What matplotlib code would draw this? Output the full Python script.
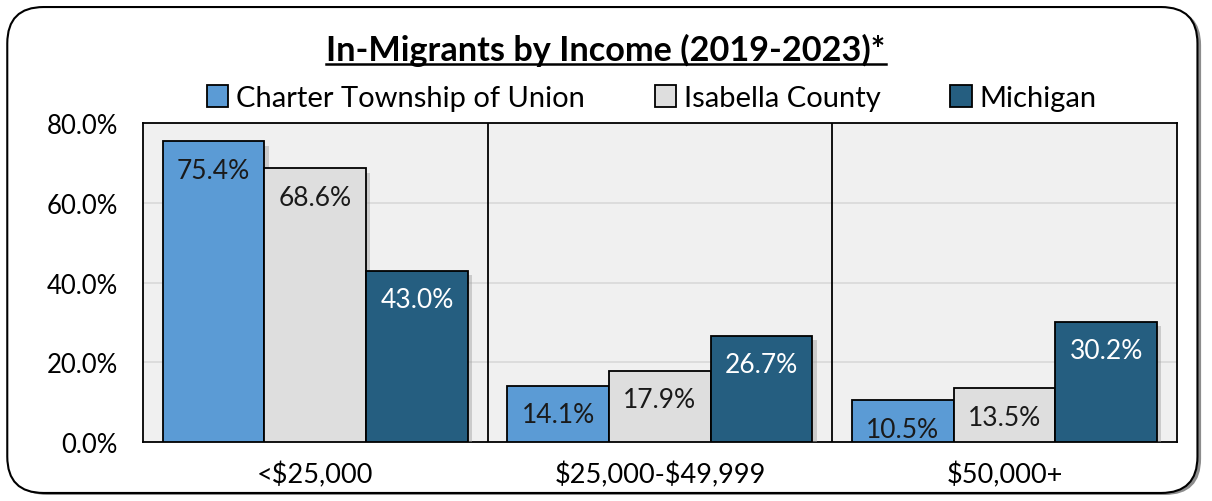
import numpy as np
import matplotlib.pyplot as plt
from matplotlib.patches import FancyBboxPatch
from matplotlib.lines import Line2D
import matplotlib.patheffects as pe

plt.rcParams['font.family'] = ['Lato', 'DejaVu Sans']

# data
categories = ["<\\$25,000", "\\$25,000-\\$49,999", "\\$50,000+"]
series_names = ["Charter Township of Union", "Isabella County", "Michigan"]
union_vals = [75.4, 14.1, 10.5]
isabella_vals = [68.6, 17.9, 13.5]
michigan_vals = [43.0, 26.7, 30.2]
y_ticks = [0, 20, 40, 60, 80]

colors = ["#5B9BD5", "#DEDEDE", "#255E80"]
label_colors = ["#1A1A1A", "#1A1A1A", "white"]

fig = plt.figure(figsize=(12.12, 5.02), dpi=100)

# rounded outer border with a little shadow
shadow = FancyBboxPatch((0.009, 0.012), 0.982, 0.968, boxstyle="round,pad=0,rounding_size=0.03",
                        transform=fig.transFigure, facecolor="#8C8C8C", edgecolor="none",
                        mutation_aspect=1212/502, zorder=0)
border = FancyBboxPatch((0.006, 0.016), 0.982, 0.968, boxstyle="round,pad=0,rounding_size=0.03",
                        transform=fig.transFigure, facecolor="white", edgecolor="black",
                        linewidth=1.5, mutation_aspect=1212/502, zorder=0.1)
fig.patches.extend([shadow, border])

ax = fig.add_axes([0.118, 0.1175, 0.853, 0.6355])
ax.set_zorder(1)
ax.set_facecolor("#F0F0F0")

x = np.arange(len(categories))
width = 0.295
all_vals = [union_vals, isabella_vals, michigan_vals]
shadow_fx = [pe.SimplePatchShadow(offset=(3, -3), shadow_rgbFace="#A0A0A0", alpha=0.45), pe.Normal()]

for i, (name, vals) in enumerate(zip(series_names, all_vals)):
    pos = x + (i - 1) * width
    bars = ax.bar(pos, vals, width, color=colors[i], edgecolor="black", linewidth=1.3,
                  label=name, zorder=3)
    for b in bars:
        b.set_path_effects(shadow_fx)
    for px, v in zip(pos, vals):
        ax.annotate(f"{v:.1f}%", (px, v), xytext=(0, -21), textcoords="offset points",
                    ha="center", va="center", fontsize=19, color=label_colors[i], zorder=4)

ax.set_xlim(-0.5, 2.5)
ax.set_ylim(0, 80)
ax.set_yticks(y_ticks)
ax.set_yticklabels([f"{t:.1f}%" for t in y_ticks], fontsize=18.5)
ax.set_xticks(x)
ax.set_xticklabels(categories, fontsize=19.5)
ax.tick_params(length=0)
ax.tick_params(axis="x", pad=14)
ax.tick_params(axis="y", pad=18)
ax.yaxis.grid(True, color="#D9D9D9", linewidth=1.2, zorder=0)
ax.set_axisbelow(True)
for s in ax.spines.values():
    s.set_color("black")
    s.set_linewidth(1.3)
for sep in [0.5, 1.5]:
    ax.axvline(sep, color="black", linewidth=1.3, zorder=2)

leg = ax.legend(loc="lower center", bbox_to_anchor=(0.492, 1.0), ncol=3, frameon=False,
                fontsize=21, handlelength=0.75, handleheight=0.75, handletextpad=0.25,
                columnspacing=2.4, borderaxespad=0.0)
for h in leg.legend_handles:
    h.set_path_effects([])

title = fig.text(0.5, 0.9, "In-Migrants by Income (2019-2023)*", ha="center", va="center",
                 fontsize=24.7, fontweight="bold", zorder=5)
fig.canvas.draw()
bb = title.get_window_extent().transformed(fig.transFigure.inverted())
fig.lines.append(Line2D([bb.x0, bb.x1], [bb.y0 + 0.004, bb.y0 + 0.004], transform=fig.transFigure,
                        color="black", linewidth=1.8, zorder=5))

fig.savefig("out.png", dpi=100)
